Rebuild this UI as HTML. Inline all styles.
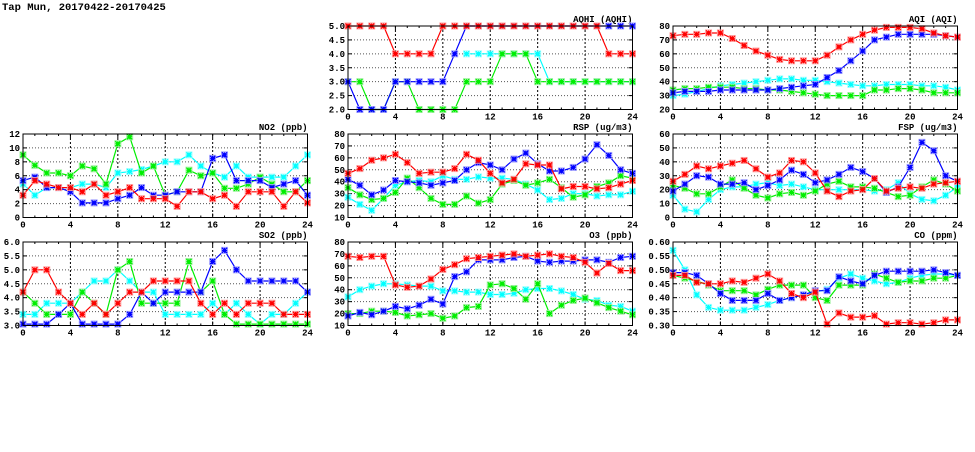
<!DOCTYPE html>
<html><head><meta charset="utf-8"><style>
body{margin:0;background:#fff;width:975px;height:447px;overflow:hidden}
svg text{font-family:"Liberation Mono",monospace;font-weight:bold;font-size:9px;fill:#000}
</style></head><body>
<svg id="chart" width="975" height="447" xmlns="http://www.w3.org/2000/svg">
<rect width="975" height="447" fill="#fff"/>
<text x="2" y="10" style="font-size:10.5px">Tap Mun, 20170422-20170425</text>
</svg>
<script>
const hours = [0,1,2,3,4,5,6,7,8,9,10,11,12,13,14,15,16,17,18,19,20,21,22,23,24];
const xTicks = [0,4,8,12,16,20,24];
const colors = ["#00ffff","#00ee00","#0000ff","#ff0000"];
const boxColors = ["#a0ffff","#a0f0a0","#a0a0ff","#ffa0a0"];
const seriesNames = ["cyan","green","blue","red"];

const aqhiCyan = [null,null,null,null,null,null,null,null,null,null,4,4,4,4,4,4,4,3,3,3,3,3,3,3,3];
const aqhiGreen = [3,3,2,2,3,3,2,2,2,2,3,3,3,4,4,4,3,3,3,3,3,3,3,3,3];
const aqhiBlue = [3,2,2,2,3,3,3,3,3,4,5,5,5,5,5,5,5,5,5,5,5,5,5,5,5];
const aqhiRed = [5,5,5,5,4,4,4,4,5,5,5,5,5,5,5,5,5,5,5,5,5,5,4,4,4];

const aqiCyan = [30,31,33,35,37,38,39,40,41,42,42,41,41,40,39,38,37,37,38,38,38,37,37,36,34];
const aqiGreen = [34,35,35,36,36,36,35,35,34,34,33,32,31,30,30,30,30,34,34,35,35,34,32,32,32];
const aqiBlue = [32,33,33,33,34,34,34,34,34,35,36,37,38,43,48,55,62,70,72,74,74,74,74,73,72];
const aqiRed = [73,74,74,75,75,71,66,62,59,56,55,55,55,59,65,70,74,77,79,79,79,78,75,73,72];

const no2Cyan = [4.8,3.2,4.3,4.3,4.3,4.8,4.8,4.3,6.4,6.6,6.9,7.4,8,8,9,7.4,6.4,5.8,7.4,5.8,5.8,5.8,5.8,7.4,9];
const no2Green = [9,7.5,6.4,6.4,6,7.4,7,4.8,10.6,11.6,6.4,7.4,3.2,3.7,6.8,6,6.4,4.2,4.2,4.8,5.8,4.8,3.7,3.7,5.3];
const no2Blue = [5.3,5.8,4.3,4.3,3.7,2.1,2.1,2.1,2.7,3.2,4.3,3.2,3.2,3.7,3.7,3.7,8.5,9,5.3,5.3,5.3,4.3,4.8,5.3,3.2];
const no2Red = [3.2,5.3,4.8,4.3,4.3,3.7,4.8,3.2,3.7,4.3,2.7,2.7,2.7,1.6,3.7,3.7,2.7,3.2,1.6,3.7,3.7,3.7,1.6,3.7,2.1];

const rspCyan = [27,21,16,26,37,40,41,40,45,42,42,44,43,43,42,38,33,25,26,30,30,28,29,29,32];
const rspGreen = [35,29,25,26,31,43,35,26,21,21,28,22,25,38,41,37,39,42,35,27,29,36,39,45,43];
const rspBlue = [42,37,29,33,41,40,39,37,39,41,50,56,54,50,59,64,55,49,49,52,59,71,62,50,47];
const rspRed = [47,51,58,60,63,56,47,48,48,51,63,58,47,39,42,55,54,54,34,36,36,34,35,38,41];

const fspCyan = [16,6,4,13,20,22,22,24,25,23,24,22,20,20,20,20,20,19,20,25,17,13,12,16,22];
const fspGreen = [23,21,17,17,22,27,21,16,14,17,18,16,19,24,26,22,22,21,18,15,16,22,27,24,19];
const fspBlue = [19,24,30,29,24,24,25,20,23,27,34,31,25,27,31,36,33,28,18,22,36,54,48,30,26];
const fspRed = [26,31,37,35,37,39,41,35,29,32,41,40,32,19,15,19,20,28,19,21,22,21,24,25,26];

const so2Cyan = [3.4,3.4,3.8,3.8,3.8,4.2,4.6,4.6,5,4.6,4.2,4.2,3.4,3.4,3.4,3.4,3.8,3.4,3.8,3.4,3.05,3.4,3.4,3.8,4.2];
const so2Green = [4.2,3.8,3.4,3.4,3.4,4.2,3.8,3.4,5,5.3,3.8,3.8,3.8,3.8,5.3,4.2,4.6,3.4,3.05,3.05,3.05,3.05,3.05,3.05,3.05];
const so2Blue = [3.05,3.05,3.05,3.4,3.8,3.05,3.05,3.05,3.05,3.4,4.2,3.8,4.2,4.2,4.2,4.2,5.3,5.7,5,4.6,4.6,4.6,4.6,4.6,4.2];
const so2Red = [4.2,5,5,4.2,3.8,3.4,3.8,3.4,3.8,4.2,4.2,4.6,4.6,4.6,4.6,3.8,3.4,3.8,3.4,3.8,3.8,3.8,3.4,3.4,3.4];

const o3Cyan = [34,40,43,45,45,44,43,43,39,39,38,38,36,36,37,40,41,41,39,36,32,31,27,26,22];
const o3Green = [20,20,22,22,21,18,19,20,16,18,25,26,44,45,41,32,45,20,27,31,33,29,25,22,19];
const o3Blue = [18,21,19,22,26,24,27,32,28,51,55,65,65,65,67,68,64,63,64,64,65,65,63,67,68];
const o3Red = [68,67,68,68,44,42,43,49,57,61,66,67,68,69,70,68,69,70,68,67,63,54,62,56,56];

const coCyan = [0.57,0.50,0.41,0.365,0.355,0.355,0.355,0.365,0.375,0.39,0.40,0.41,0.42,0.43,0.47,0.485,0.47,0.46,0.45,0.455,0.47,0.48,0.485,0.485,0.48];
const coGreen = [0.48,0.47,0.46,0.445,0.425,0.425,0.425,0.41,0.43,0.445,0.445,0.445,0.40,0.39,0.445,0.445,0.445,0.485,0.47,0.455,0.46,0.46,0.47,0.47,0.48];
const coBlue = [0.49,0.49,0.48,0.45,0.415,0.39,0.39,0.39,0.415,0.39,0.40,0.41,0.425,0.425,0.475,0.46,0.45,0.48,0.495,0.495,0.495,0.495,0.50,0.49,0.48];
const coRed = [0.48,0.48,0.455,0.45,0.45,0.46,0.455,0.47,0.485,0.46,0.415,0.40,0.42,0.305,0.345,0.33,0.33,0.335,0.305,0.31,0.31,0.305,0.31,0.32,0.32];

const aqhiTicks = [2.0,2.5,3.0,3.5,4.0,4.5,5.0];
const aqiTicks = [20,30,40,50,60,70,80];
const no2Ticks = [0,2,4,6,8,10,12];
const rspTicks = [10,20,30,40,50,60,70,80];
const fspTicks = [0,10,20,30,40,50,60];
const so2Ticks = [3.0,3.5,4.0,4.5,5.0,5.5,6.0];
const o3Ticks = [10,20,30,40,50,60,70,80];
const coTicks = [0.30,0.35,0.40,0.45,0.50,0.55,0.60];

const panels = [
 {name:"aqhi",title:"AQHI (AQHI)",L:348,T:26,ticks:aqhiTicks,dec:1,data:[aqhiCyan,aqhiGreen,aqhiBlue,aqhiRed]},
 {name:"aqi",title:"AQI (AQI)",L:673,T:26,ticks:aqiTicks,dec:0,data:[aqiCyan,aqiGreen,aqiBlue,aqiRed]},
 {name:"no2",title:"NO2 (ppb)",L:23,T:134,ticks:no2Ticks,dec:0,data:[no2Cyan,no2Green,no2Blue,no2Red]},
 {name:"rsp",title:"RSP (ug/m3)",L:348,T:134,ticks:rspTicks,dec:0,data:[rspCyan,rspGreen,rspBlue,rspRed]},
 {name:"fsp",title:"FSP (ug/m3)",L:673,T:134,ticks:fspTicks,dec:0,data:[fspCyan,fspGreen,fspBlue,fspRed]},
 {name:"so2",title:"SO2 (ppb)",L:23,T:242,ticks:so2Ticks,dec:1,data:[so2Cyan,so2Green,so2Blue,so2Red]},
 {name:"o3",title:"O3 (ppb)",L:348,T:242,ticks:o3Ticks,dec:0,data:[o3Cyan,o3Green,o3Blue,o3Red]},
 {name:"co",title:"CO (ppm)",L:673,T:242,ticks:coTicks,dec:2,data:[coCyan,coGreen,coBlue,coRed]}
];
const W=284.5, H=83.5;
const svg=document.getElementById('chart');
const NS="http://www.w3.org/2000/svg";
function mk(tag,attrs,parent){const e=document.createElementNS(NS,tag);for(const k in attrs)e.setAttribute(k,attrs[k]);parent.appendChild(e);return e;}
panels.forEach(p=>{
  const g=mk('g',{},svg);
  
  
  const yMin=p.ticks[0], yMax=p.ticks[p.ticks.length-1];
  const xs=h=>p.L+h/24*W;
  const ys=v=>p.T+H-(v-yMin)/(yMax-yMin)*H;
  p.ticks.forEach(t=>{
    const y=ys(t);
    if(t>yMin&&t<yMax){const l=mk('line',{x1:p.L,x2:p.L+W,y1:y,y2:y,stroke:'#555','stroke-width':1,'stroke-dasharray':'1,2'},g);
      
      }
    mk('line',{x1:p.L,x2:p.L+4,y1:y,y2:y,stroke:'#000'},g);
    mk('line',{x1:p.L+W-4,x2:p.L+W,y1:y,y2:y,stroke:'#000'},g);
    const tx=mk('text',{x:p.L-3,y:y+3,'text-anchor':'end'},g);
    tx.textContent=t.toFixed(p.dec);
    
    
  });
  for(let h=1;h<24;h++){const x=xs(h);
    mk('line',{x1:x,x2:x,y1:p.T+H,y2:p.T+H-(h%4?2:4),stroke:'#000'},g);
    mk('line',{x1:x,x2:x,y1:p.T,y2:p.T+(h%4?2:4),stroke:'#000'},g);}
  xTicks.forEach(t=>{
    const x=xs(t);
    if(t>0&&t<24){const l=mk('line',{x1:x,x2:x,y1:p.T,y2:p.T+H,stroke:'#000','stroke-width':1,'stroke-dasharray':'2,2'},g);
      
      }
    const tx=mk('text',{x:x,y:p.T+H+10,'text-anchor':'middle'},g);
    tx.textContent=t;
    
    
  });
  const tt=mk('text',{x:p.L+W,y:p.T-4,'text-anchor':'end'},g);
  tt.textContent=p.title;
  
  
  p.data.forEach((arr,si)=>{
    const c=colors[si];
    let d='';let started=false;
    arr.forEach((v,i)=>{if(v==null){started=false;return;}d+=(started?'L':'M')+xs(hours[i]).toFixed(1)+' '+ys(v).toFixed(1);started=true;});
    const line=mk('path',{d:d,fill:'none',stroke:c,'stroke-width':1.2},g);
    
    
    arr.forEach((v,i)=>{if(v==null)return;const x=xs(hours[i]),y=ys(v),r=2.5;
      mk('rect',{x:x-3,y:y-3,width:6,height:6,fill:'none',stroke:boxColors[si],'stroke-width':1},g);
      const m=mk('path',{d:`M${x-r} ${y-r}L${x+r} ${y+r}M${x-r} ${y+r}L${x+r} ${y-r}M${x} ${y-r}L${x} ${y+r}M${x-r} ${y}L${x+r} ${y}`,stroke:c,'stroke-width':1.3,fill:'none'},g);
      
      });
  });
  const b=mk('rect',{x:p.L,y:p.T,width:W,height:H,fill:'none',stroke:'#000','stroke-width':1},g);
  
  
});
</script>
</body></html>
